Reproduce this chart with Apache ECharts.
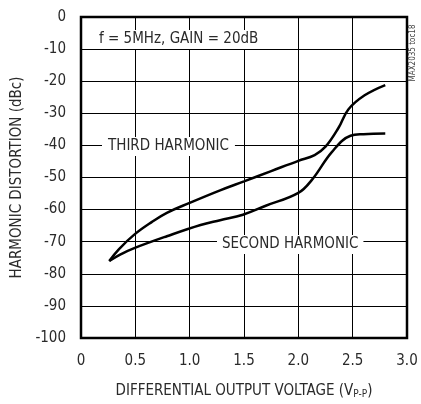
<!DOCTYPE html>
<html><head><meta charset="utf-8">
<script src="https://cdn.jsdelivr.net/npm/echarts@6/dist/echarts.min.js"></script>
<style>html,body{margin:0;padding:0;background:#fff}#c{width:421px;height:404px}</style>
</head><body><div id="c"></div>
<script>
var xTicks = [0, 0.5, 1.0, 1.5, 2.0, 2.5, 3.0];
var yTicks = [0, -10, -20, -30, -40, -50, -60, -70, -80, -90, -100];
var thirdHarmonic = [
  [0.26,-76],[0.35,-72.3],[0.49,-67.8],[0.65,-63.9],[0.79,-61],[1.0,-57.9],[1.28,-54],
  [1.5,-51.2],[1.75,-48],[2.0,-44.8],[2.15,-43],[2.25,-40.4],[2.37,-34.5],[2.46,-28.8],
  [2.61,-24.4],[2.8,-21.2]
];
var secondHarmonic = [
  [0.26,-76],[0.36,-74],[0.49,-72],[0.79,-68.3],[1.1,-64.8],[1.28,-63.3],[1.49,-61.6],
  [1.7,-58.8],[2.0,-54.8],[2.13,-50.5],[2.31,-42],[2.48,-37],[2.6,-36.5],[2.8,-36.3]
];
var FONT = "'Liberation Sans Narrow','DejaVu Sans Condensed','Liberation Sans',sans-serif";
var TXT = '#2a2a2a';
var chart = echarts.init(document.getElementById('c'));
chart.setOption({
  animation: false,
  backgroundColor: '#fff',
  grid: {left: 81, right: 14, top: 17, bottom: 59, show: true, borderColor: '#000', borderWidth: 2.5, backgroundColor: 'transparent'},
  xAxis: {
    type: 'value', min: 0, max: 3, interval: 0.5,
    axisLine: {show: false}, axisTick: {show: false},
    splitLine: {lineStyle: {color: '#000', width: 1}},
    axisLabel: {color: TXT, fontFamily: FONT, fontSize: 15, margin: 16,
      formatter: function (v) { return v === 0 ? '0' : v.toFixed(1); }},
    name: '{a|DIFFERENTIAL OUTPUT VOLTAGE (V}{s|P-P}{a|)}',
    nameLocation: 'middle', nameGap: 45,
    nameTextStyle: {rich: {a: {fontFamily: FONT, fontSize: 15, color: TXT},
      s: {fontFamily: FONT, fontSize: 10, color: TXT, verticalAlign: 'bottom', padding: [6,0,0,0]}}}
  },
  yAxis: {
    type: 'value', min: -100, max: 0, interval: 10,
    axisLine: {show: false}, axisTick: {show: false},
    splitLine: {lineStyle: {color: '#000', width: 1}},
    axisLabel: {color: TXT, fontFamily: FONT, fontSize: 15, margin: 15},
    name: 'HARMONIC DISTORTION (dBc)', nameLocation: 'middle', nameGap: 52,
    nameTextStyle: {fontFamily: FONT, fontSize: 15, color: TXT}
  },
  graphic: [
    {type: 'text', left: 94, top: 30, z: 100,
      style: {text: 'f = 5MHz, GAIN = 20dB', fontFamily: FONT, fontSize: 15, fill: TXT,
        backgroundColor: '#fff', padding: [2, 5, 2, 5]}},
    {type: 'text', left: 102, top: 137, z: 100,
      style: {text: 'THIRD HARMONIC', fontFamily: FONT, fontSize: 15, fill: TXT,
        backgroundColor: '#fff', padding: [2, 6, 2, 6]}},
    {type: 'text', left: 217, top: 235, z: 100,
      style: {text: 'SECOND HARMONIC', fontFamily: FONT, fontSize: 15, fill: TXT,
        backgroundColor: '#fff', padding: [2, 5, 2, 5]}},
    {type: 'text', x: 413, y: 53, rotation: Math.PI / 2, z: 100,
      style: {text: 'MAX2035 toc18', fontFamily: FONT, fontSize: 8, fill: '#444', align: 'center', verticalAlign: 'middle'}}
  ],
  series: [
    {type: 'line', data: thirdHarmonic, smooth: 0.4, symbol: 'none', z: 5,
      lineStyle: {color: '#000', width: 2.5}},
    {type: 'line', data: secondHarmonic, smooth: 0.4, symbol: 'none', z: 5,
      lineStyle: {color: '#000', width: 2.5}}
  ]
});
</script></body></html>
